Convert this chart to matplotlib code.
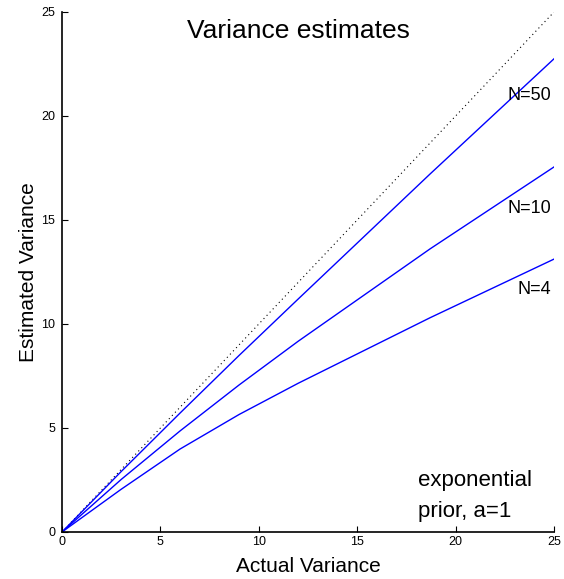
import matplotlib
matplotlib.use("Agg")
import matplotlib.pyplot as plt

plt.rcParams['font.family'] = ['Liberation Sans', 'DejaVu Sans']

# Data
actual = [0, 3, 6, 9, 12, 18.7, 25]
est_n4 = [0, 2.05, 3.99, 5.65, 7.15, 10.30, 13.12]
est_n10 = [0, 2.52, 4.86, 7.07, 9.17, 13.61, 17.55]
est_n50 = [0, 2.90, 5.72, 8.49, 11.20, 17.21, 22.75]
identity = [0, 25]
series_labels = ["N=50", "N=10", "N=4"]
label_y = [21.0, 15.55, 11.65]
xticks = [0, 5, 10, 15, 20, 25]
yticks = [0, 5, 10, 15, 20, 25]

fig = plt.figure(figsize=(5.64, 5.79), dpi=100)
ax = fig.add_axes([62/564, 47/579, 492/564, 520/579])

ax.plot(identity, identity, color='black', linestyle=(0, (1, 3)), linewidth=0.8)
for ys in (est_n50, est_n10, est_n4):
    ax.plot(actual, ys, color=(0, 0, 1), linewidth=1.0)

ax.set_xlim(0, 25)
ax.set_ylim(0, 25)
ax.set_xticks(xticks)
ax.set_yticks(yticks)
ax.tick_params(direction='in', length=4, width=0.8, labelsize=9)
ax.tick_params(axis='y', pad=5)
ax.tick_params(axis='x', pad=3)
for s in ('top', 'right'):
    ax.spines[s].set_visible(False)
for s in ('left', 'bottom'):
    ax.spines[s].set_linewidth(1.2)

ax.set_xlabel("Actual Variance", fontsize=15, labelpad=6)
ax.set_ylabel("Estimated Variance", fontsize=15, labelpad=2)

ax.text(12, 23.76, "Variance estimates", fontsize=19, ha='center', va='baseline')
for lab, yv in zip(series_labels, label_y):
    ax.text(24.85, yv, lab, fontsize=13, ha='right', va='center')

ax.text(18.1, 2.2, "exponential", fontsize=16, ha='left', va='baseline')
ax.text(18.1, 0.72, "prior, a=1", fontsize=16, ha='left', va='baseline')

fig.savefig("out.png", dpi=100)
